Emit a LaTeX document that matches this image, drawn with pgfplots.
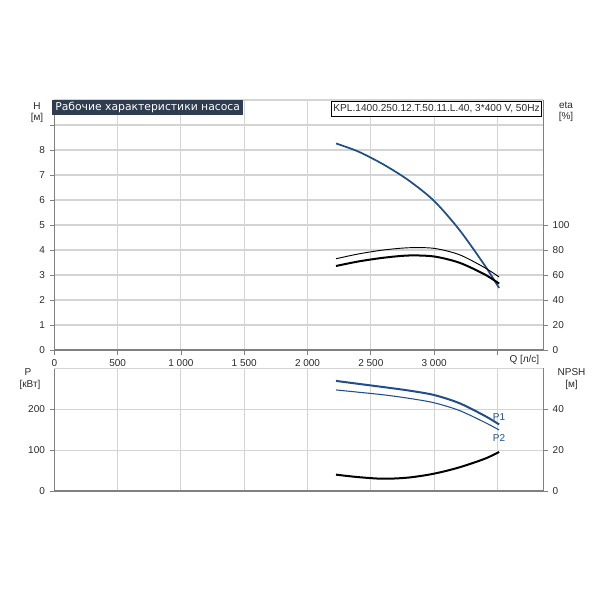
\documentclass[border=0pt]{standalone}
\usepackage{pgfplots}
\pgfplotsset{compat=1.18}
\usepackage{fontspec}
\setmainfont{Liberation Sans}
\newfontfamily\titlefont{DejaVu Sans}

\definecolor{curveblue}{HTML}{1F4E89}
\definecolor{txt}{HTML}{2A2A2A}
\definecolor{axgray}{HTML}{808080}
\definecolor{gridc}{HTML}{D4D4D4}
\definecolor{titlebg}{HTML}{2E3D4F}

\pgfplotsset{
  pumpbase/.style={
    scale only axis, width=366.75pt, xmin=0, xmax=3862, anchor=south west,
    clip=false,
    axis line style={draw=axgray, line width=1.1pt, -},
    tick style={draw=axgray, line width=0.6pt},
    major tick length=3.5pt, tick align=outside,
    ticklabel style={font=\fontsize{7.5}{8}\selectfont, text=txt},
    /pgf/number format/assume math mode=true,
    grid style={draw=gridc, line width=0.8pt},
  },
}

\begin{document}
\begin{tikzpicture}
\useasboundingbox (0,0) rectangle (450pt,450pt);

% --- top panel: head
\begin{axis}[pumpbase, at={(40.725pt,187.5pt)}, height=187.5pt, ymin=0, ymax=10,
  axis x line*=bottom, axis y line*=left,
  xtick={0,500,...,3500},
  xticklabels={0,500,1 000,1 500,2 000,2 500,3 000,{}},
  ytick={0,1,...,9}, yticklabels={0,1,2,3,4,5,6,7,8,{}},
  xmajorgrids, ymajorgrids]
\draw[gridc, line width=0.8pt] (rel axis cs:0,1) -- (rel axis cs:1,1);
\addplot[curveblue, line width=1.3pt, smooth] coordinates {
  (2225,8.26) (2400,7.94) (2600,7.42) (2800,6.78) (3000,5.96)
  (3200,4.80) (3400,3.38) (3513,2.48)};
\end{axis}

% --- top panel: efficiency
\begin{axis}[pumpbase, at={(40.725pt,187.5pt)}, height=187.5pt, ymin=0, ymax=200,
  axis y line*=right, axis x line=none,
  ytick={0,20,...,100}]
\addplot[black, line width=0.7pt, smooth] coordinates {
  (2225,73.0) (2400,76.8) (2600,80.0) (2800,81.8) (3000,81.3)
  (3200,76.2) (3400,65.8) (3513,58.4)};
\addplot[black, line width=1.5pt, smooth] coordinates {
  (2225,67.2) (2400,70.8) (2600,73.8) (2800,75.6) (3000,74.8)
  (3200,69.8) (3400,60.4) (3513,53.1)};
\end{axis}

% --- bottom panel: power
\begin{axis}[pumpbase, at={(40.725pt,81.75pt)}, height=91.875pt, ymin=0, ymax=300,
  axis x line*=bottom, axis y line*=left,
  xtick={0,500,...,3500}, xticklabels={}, xtick style={draw=none},
  ytick={0,100,200},
  xmajorgrids, ymajorgrids]
\draw[gridc, line width=0.8pt] (rel axis cs:0,1) -- (rel axis cs:1,1);
\addplot[curveblue, line width=1.5pt, smooth] coordinates {
  (2225,269.6) (2400,262.5) (2600,254.5) (2800,246) (3000,235)
  (3200,215) (3400,184) (3513,163)};
\addplot[curveblue, line width=0.8pt, smooth] coordinates {
  (2225,247.5) (2400,242) (2600,235.5) (2800,227) (3000,216)
  (3200,197) (3400,168) (3513,149.5)};
\end{axis}

% --- bottom panel: NPSH
\begin{axis}[pumpbase, at={(40.725pt,81.75pt)}, height=91.875pt, ymin=0, ymax=60,
  axis y line*=right, axis x line=none,
  ytick={0,20,40}]
\addplot[black, line width=1.5pt, smooth] coordinates {
  (2225,8.0) (2400,6.8) (2600,6.0) (2800,6.6) (3000,8.5)
  (3200,11.6) (3400,15.8) (3513,19.1)};
\end{axis}

% --- labels, placed in pixel coordinates of the 600x600 picture
\begin{scope}[x=0.75pt, y=-0.75pt, yshift=450pt]
\begin{scope}[every node/.style={font=\fontsize{7.5}{8}\selectfont, text=txt, inner sep=0pt}]
\node at (37,106) {H};
\node at (37,117.5) {[м]};
\node at (566,105) {eta};
\node at (566,116.5) {[\%]};
\node at (28,372) {P};
\node at (30,385) {[кВт]};
\node at (571.5,372) {NPSH};
\node at (571.5,385) {[м]};
\node[anchor=east] at (539.5,360) {Q [л/с]};
\node[text=curveblue] at (499,417.5) {P1};
\node[text=curveblue] at (499,438.5) {P2};
\end{scope}
\node[anchor=north west, fill=titlebg, text=white, inner xsep=2.5pt, inner ysep=0pt,
  minimum height=11.25pt, font=\titlefont\fontsize{8.1}{9}\selectfont]
  at (51.7,100) {Рабочие характеристики насоса};
\node[anchor=north east, fill=white, draw=black, line width=0.5pt, inner xsep=1.5pt,
  inner ysep=0pt, minimum height=11pt, text=txt, font=\fontsize{7.6}{8}\selectfont]
  at (542,101) {KPL.1400.250.12.T.50.11.L.40, 3*400 V, 50Hz};
\end{scope}
\end{tikzpicture}
\end{document}
